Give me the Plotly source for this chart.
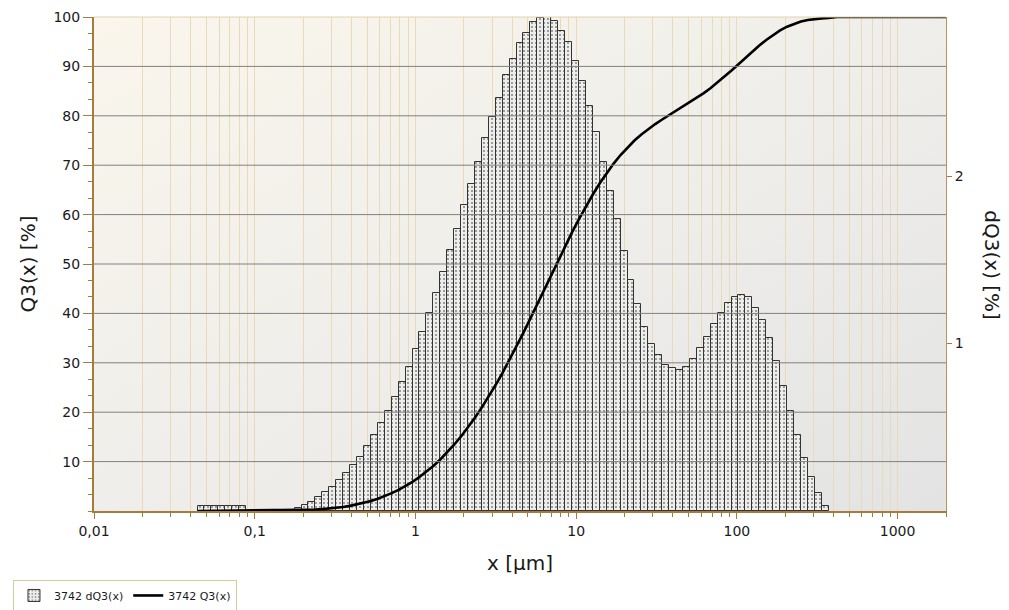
import math
import urllib.parse
import plotly.graph_objects as go

# ---------------- data ----------------
# particle-size classes (geometric class grid of the instrument)
first_class_edge_um = 0.04406
class_width_decades = 0.04315
n_classes = 91
class_edges_um = [first_class_edge_um * 10 ** (k * class_width_decades) for k in range(n_classes + 1)]

# density distribution per class, dQ3 [%]
dq3_percent = [
    0.027, 0.027, 0.027, 0.027, 0.027, 0.027, 0.027,
    0.0, 0.0, 0.0, 0.0, 0.0, 0.0, 0.0,
    0.018, 0.038, 0.053, 0.083, 0.112, 0.145, 0.186, 0.224, 0.274, 0.325,
    0.389, 0.451, 0.525, 0.599, 0.679, 0.770, 0.858, 0.968, 1.068, 1.180,
    1.301, 1.425, 1.561, 1.687, 1.829, 1.953, 2.083, 2.227, 2.354, 2.469,
    2.605, 2.702, 2.797, 2.856, 2.921, 2.944, 2.950, 2.929, 2.867, 2.800,
    2.690, 2.569, 2.416, 2.263, 2.083, 1.909, 1.743, 1.552, 1.381, 1.236,
    1.100, 1.000, 0.929, 0.873, 0.856, 0.844, 0.861, 0.909, 0.974, 1.041,
    1.118, 1.183, 1.242, 1.277, 1.292, 1.277, 1.215, 1.142, 1.033, 0.897,
    0.749, 0.599, 0.454, 0.316, 0.201, 0.109, 0.032,
]

# cumulative distribution Q3 [%] read at the class edges, then the plateau
q3_percent = [
    0.0, 0.03, 0.05, 0.08, 0.11, 0.13, 0.16, 0.19,
    0.19, 0.19, 0.19, 0.19, 0.19, 0.19, 0.19,
    0.20, 0.24, 0.30, 0.38, 0.49, 0.63, 0.82, 1.04, 1.32, 1.64,
    2.03, 2.48, 3.01, 3.61, 4.29, 5.06, 5.91, 6.88, 7.95, 9.13,
    10.43, 11.86, 13.42, 15.10, 16.93, 18.89, 20.97, 23.20, 25.55, 28.02,
    30.62, 33.33, 36.12, 38.98, 41.90, 44.84, 47.79, 50.72, 53.59, 56.39,
    59.08, 61.65, 64.07, 66.33, 68.41, 70.32, 72.06, 73.61, 75.00, 76.23,
    77.33, 78.33, 79.26, 80.13, 80.99, 81.83, 82.69, 83.60, 84.58, 85.62,
    86.74, 87.92, 89.16, 90.44, 91.73, 93.01, 94.22, 95.36, 96.40, 97.29,
    98.04, 98.64, 99.10, 99.41, 99.61, 99.72, 99.80,
]
q3_plateau_um = [420, 2000]
q3_plateau_percent = [100.0, 100.0]

x_tick_values = [0.01, 0.1, 1, 10, 100, 1000]
x_tick_labels = ["0,01", "0,1", "1", "10", "100", "1000"]
x_minor_values = [m * 10 ** e for e in range(-2, 4) for m in range(2, 10)]
q3_tick_values = [10, 20, 30, 40, 50, 60, 70, 80, 90, 100]
dq3_tick_values = [1, 2]

# ---------------- styling ----------------
BROWN = "#A27D3E"
BEIGE_GRID = "#EADBB8"
FONT = "DejaVu Sans"

lower = class_edges_um[:-1]
widths = [class_edges_um[i + 1] - class_edges_um[i] for i in range(n_classes)]

fig = go.Figure()

fig.add_trace(go.Bar(
    x=lower, y=dq3_percent, width=widths, offset=0,
    name="3742 dQ3(x)",
    marker=dict(
        color="#EDEDEB",
        line=dict(color="#333333", width=1),
        pattern=dict(shape=".", fgcolor="#000000", bgcolor="#EDEDEB", size=4, solidity=0.16),
    ),
    xaxis="x", yaxis="y", hoverinfo="skip",
))

fig.add_trace(go.Scatter(
    x=class_edges_um + q3_plateau_um, y=q3_percent + q3_plateau_percent,
    mode="lines", name="3742 Q3(x)",
    line=dict(color="#000000", width=2.6),
    xaxis="x", yaxis="y2", hoverinfo="skip", cliponaxis=True,
))

svg = (
    '<svg xmlns="http://www.w3.org/2000/svg" width="100" height="100" viewBox="0 0 100 100" '
    'preserveAspectRatio="none"><defs><linearGradient id="g" x1="0" y1="0" x2="1" y2="1">'
    '<stop offset="0" stop-color="#FAF6EC"/><stop offset="0.55" stop-color="#EEEDEA"/>'
    '<stop offset="1" stop-color="#E3E3E3"/></linearGradient></defs>'
    '<rect x="0" y="0" width="100" height="100" fill="url(#g)"/></svg>'
)
bg_uri = "data:image/svg+xml;charset=utf-8," + urllib.parse.quote(svg)

shapes = [
    dict(type="line", xref="paper", yref="y2", x0=0, x1=1, y0=v, y1=v,
         line=dict(color="#808080", width=1), layer="above")
    for v in q3_tick_values[:-1]
]
shapes.append(dict(type="line", xref="paper", yref="paper", x0=0, x1=1, y0=1, y1=1,
                   line=dict(color="#E3D3AE", width=1), layer="above"))

# the page adds an 8 px body margin, so the figure is 8 px smaller and margins shifted
fig.update_layout(
    width=1001, height=602,
    margin=dict(l=86, r=63, t=9, b=99, autoexpand=False),
    paper_bgcolor="white",
    plot_bgcolor="rgba(0,0,0,0)",
    font=dict(family=FONT, size=14, color="#1a1a1a"),
    bargap=0,
    showlegend=True,
    images=[dict(source=bg_uri, xref="paper", yref="paper", x=0, y=1, sizex=1, sizey=1,
                 xanchor="left", yanchor="top", sizing="stretch", layer="below")],
    shapes=shapes,
    xaxis=dict(
        type="log", range=[-2, math.log10(2000)], automargin=False,
        tickvals=x_tick_values, ticktext=x_tick_labels,
        showgrid=True, gridcolor=BEIGE_GRID, gridwidth=1,
        ticks="outside", ticklen=6, tickcolor=BROWN, tickwidth=1,
        showline=True, linecolor=BROWN, linewidth=2,
        minor=dict(tickvals=x_minor_values, showgrid=True, gridcolor=BEIGE_GRID,
                   ticks="outside", ticklen=4, tickcolor=BROWN),
        tickfont=dict(size=14),
        title=dict(text="x [µm]", font=dict(size=20), standoff=18),
        zeroline=False,
    ),
    yaxis=dict(
        side="right", range=[0, 2.95], automargin=False,
        tickvals=dq3_tick_values, ticks="outside", ticklen=5, tickcolor=BROWN,
        showline=True, linecolor="#B8935A", linewidth=1,
        showgrid=False, zeroline=False, tickfont=dict(size=14),
    ),
    yaxis2=dict(
        overlaying="y", side="left", range=[0, 100], automargin=False,
        tickvals=q3_tick_values, ticks="outside", ticklen=9, tickcolor=BROWN,
        showline=True, linecolor=BROWN, linewidth=2,
        minor=dict(dtick=10 / 3, tick0=0, ticks="outside", ticklen=4, tickcolor=BROWN, showgrid=False),
        showgrid=False, zeroline=False, tickfont=dict(size=14),
        title=dict(text="Q3(x) [%]", font=dict(size=20), standoff=12),
    ),
    legend=dict(
        orientation="h", x=-0.0951, y=-0.1396, xanchor="left", yanchor="top",
        bgcolor="white", bordercolor="#D9C9A2", borderwidth=1,
        font=dict(size=11, family=FONT), tracegroupgap=0,
    ),
    annotations=[dict(
        text="dQ3(x) [%]", xref="paper", yref="paper", x=1.053, y=0.497,
        textangle=90, showarrow=False, font=dict(size=20, family=FONT),
        xanchor="center", yanchor="middle",
    )],
)

fig.write_html("out.html")
